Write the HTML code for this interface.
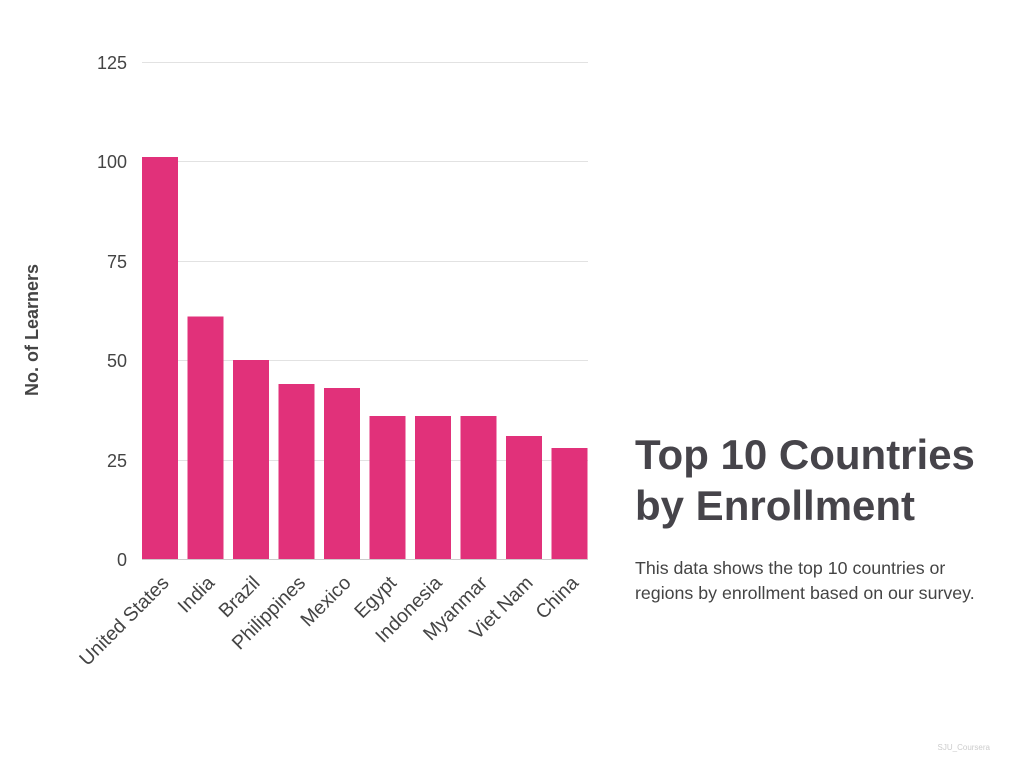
<!DOCTYPE html>
<html><head><meta charset="utf-8"><style>
html,body{margin:0;padding:0;background:#fff;}
svg{display:block;font-family:"Liberation Sans",sans-serif;}
</style></head><body>
<svg width="1024" height="768" viewBox="0 0 1024 768">
<g stroke="#e2e2e2" stroke-width="1">
<line x1="142" y1="62.5" x2="588" y2="62.5"/>
<line x1="142" y1="161.5" x2="588" y2="161.5"/>
<line x1="142" y1="261.5" x2="588" y2="261.5"/>
<line x1="142" y1="360.5" x2="588" y2="360.5"/>
<line x1="142" y1="460.5" x2="588" y2="460.5"/>
</g>
<g fill="#444" font-size="18" text-anchor="end">
<text x="127" y="69">125</text>
<text x="127" y="168">100</text>
<text x="127" y="268">75</text>
<text x="127" y="367">50</text>
<text x="127" y="467">25</text>
<text x="127" y="566">0</text>
</g>
<g fill="#e1317a">
<rect x="142" y="157" width="36" height="402"/>
<rect x="187.5" y="316.5" width="36" height="242.5"/>
<rect x="233" y="360" width="36" height="199"/>
<rect x="278.5" y="384" width="36" height="175"/>
<rect x="324" y="388" width="36" height="171"/>
<rect x="369.5" y="416" width="36" height="143"/>
<rect x="415" y="416" width="36" height="143"/>
<rect x="460.5" y="416" width="36" height="143"/>
<rect x="506" y="436" width="36" height="123"/>
<rect x="551.5" y="448" width="36" height="111"/>
</g>
<line x1="142" y1="559.5" x2="588" y2="559.5" stroke="#ccc" stroke-width="1"/>
<g fill="#444" font-size="19.5" text-anchor="end">
<text transform="translate(170,584) rotate(-45)">United States</text>
<text transform="translate(215.5,584) rotate(-45)">India</text>
<text transform="translate(261,584) rotate(-45)">Brazil</text>
<text transform="translate(306.5,584) rotate(-45)">Philippines</text>
<text transform="translate(352,584) rotate(-45)">Mexico</text>
<text transform="translate(397.5,584) rotate(-45)">Egypt</text>
<text transform="translate(443,584) rotate(-45)">Indonesia</text>
<text transform="translate(488.5,584) rotate(-45)">Myanmar</text>
<text transform="translate(534,584) rotate(-45)">Viet Nam</text>
<text transform="translate(579.5,584) rotate(-45)">China</text>
</g>
<text transform="translate(38,330) rotate(-90)" text-anchor="middle" fill="#444" font-size="18" font-weight="bold">No. of Learners</text>
<text x="635" y="469" fill="#46444a" font-size="42" font-weight="bold">Top 10 Countries</text>
<text x="635" y="520" fill="#46444a" font-size="42" font-weight="bold">by Enrollment</text>
<text x="635" y="574" fill="#444" font-size="17.8">This data shows the top 10 countries or</text>
<text x="635" y="599" fill="#444" font-size="17.8">regions by enrollment based on our survey.</text>
<text x="990" y="750" fill="#ccc" font-size="8" text-anchor="end">SJU_Coursera</text>
</svg>
</body></html>
